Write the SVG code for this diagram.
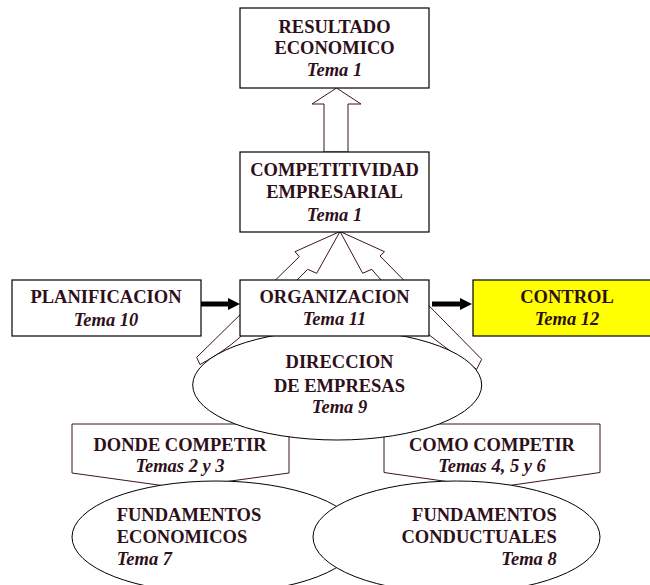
<svg xmlns="http://www.w3.org/2000/svg" width="650" height="585" viewBox="0 0 650 585">
<defs>
<style>
.box{fill:#fff;stroke:#000;stroke-width:1.2}
.yel{fill:#ffff00;stroke:#000;stroke-width:1.2}
.ell{fill:#fff;stroke:#000;stroke-width:1}
.pent{fill:#fff;stroke:#3c1423;stroke-width:1}
.hol{fill:#fff;stroke:#3c1423;stroke-width:1;stroke-linejoin:miter}
.thick{stroke:#000;stroke-width:5;fill:none}
text{font-family:"Liberation Serif","Times New Roman",serif;font-size:18.5px;fill:#2e0f1a;font-weight:bold}
.c{text-anchor:middle}
.e{text-anchor:end}
.i{font-style:italic}
</style>
<marker id="ah" viewBox="0 0 12 12" refX="2" refY="6" markerWidth="12" markerHeight="12" markerUnits="userSpaceOnUse" orient="auto">
<path d="M0,0 L12,6 L0,12 Z" fill="#000"/>
</marker>
</defs>
<rect width="650" height="585" fill="#fff"/>

<g id="connectors">
<polygon class="hol" points="336.5,88 361,104 348,104 348,152 324,152 324,104 312,104"/>
<path class="hol" d="M196.7,357.3 L299.3,256.7 L295,251.7 L340,231.5 L316.7,273.3 L307.7,269.3 L240.7,336.7 Q222,353 200,364.5 Z"/>
<path class="hol" d="M481.7,359.3 L380,256 L384.5,251.7 L340,231.5 L362.7,273.3 L371.7,269.3 L429.3,335 Q456,356 476.7,369.3 Z"/>
<line class="thick" x1="201" y1="304" x2="230" y2="304" marker-end="url(#ah)"/>
<line class="thick" x1="432" y1="304" x2="462" y2="304" marker-end="url(#ah)"/>
</g>

<g id="donde">
<polygon class="pent" points="72,424 289,424 289,473 180,488 72,473"/>
<text class="c" x="180" y="450.7">DONDE COMPETIR</text>
<text class="c i" x="180" y="471.7">Temas 2 y 3</text>
</g>

<g id="como">
<polygon class="pent" points="384,424 600,424 600,472.5 492,488 384,472.5"/>
<text class="c" x="492" y="450.7">COMO COMPETIR</text>
<text class="c i" x="492" y="471.7">Temas 4, 5 y 6</text>
</g>

<g id="fund-econ">
<ellipse class="ell" cx="216" cy="537" rx="144" ry="56"/>
<text x="116.7" y="521">FUNDAMENTOS</text>
<text x="116.7" y="542.7">ECONOMICOS</text>
<text class="i" x="116.7" y="565">Tema 7</text>
</g>

<g id="fund-cond">
<ellipse class="ell" cx="456.5" cy="537" rx="143.5" ry="56"/>
<text class="e" x="556.7" y="521">FUNDAMENTOS</text>
<text class="e" x="556.7" y="542.7">CONDUCTUALES</text>
<text class="e i" x="556.7" y="565">Tema 8</text>
</g>

<g id="direccion">
<ellipse class="ell" cx="337.2" cy="385" rx="144.5" ry="55"/>
<text class="c" x="339.5" y="368">DIRECCION</text>
<text class="c" x="339.5" y="391.7">DE EMPRESAS</text>
<text class="c i" x="339.5" y="413.3">Tema 9</text>
</g>

<g id="resultado">
<rect class="box" x="240" y="8" width="189" height="80"/>
<text class="c" x="334.5" y="32.7">RESULTADO</text>
<text class="c" x="334.5" y="54">ECONOMICO</text>
<text class="c i" x="334.5" y="76">Tema 1</text>
</g>

<g id="competitividad">
<rect class="box" x="240" y="152" width="189" height="80"/>
<text class="c" x="334.5" y="176">COMPETITIVIDAD</text>
<text class="c" x="334.5" y="197.7">EMPRESARIAL</text>
<text class="c i" x="334.5" y="220.7">Tema 1</text>
</g>

<g id="planificacion">
<rect class="box" x="12" y="280" width="189" height="56"/>
<text class="c" x="106" y="303.3">PLANIFICACION</text>
<text class="c i" x="106" y="326">Tema 10</text>
</g>

<g id="organizacion">
<rect class="box" x="240" y="280" width="189" height="56"/>
<text class="c" x="334.5" y="303.3">ORGANIZACION</text>
<text class="c i" x="334.5" y="325.3">Tema 11</text>
</g>

<g id="control">
<rect class="yel" x="473" y="280" width="189" height="56"/>
<text class="c" x="567" y="303.3">CONTROL</text>
<text class="c i" x="567" y="325">Tema 12</text>
</g>
</svg>
